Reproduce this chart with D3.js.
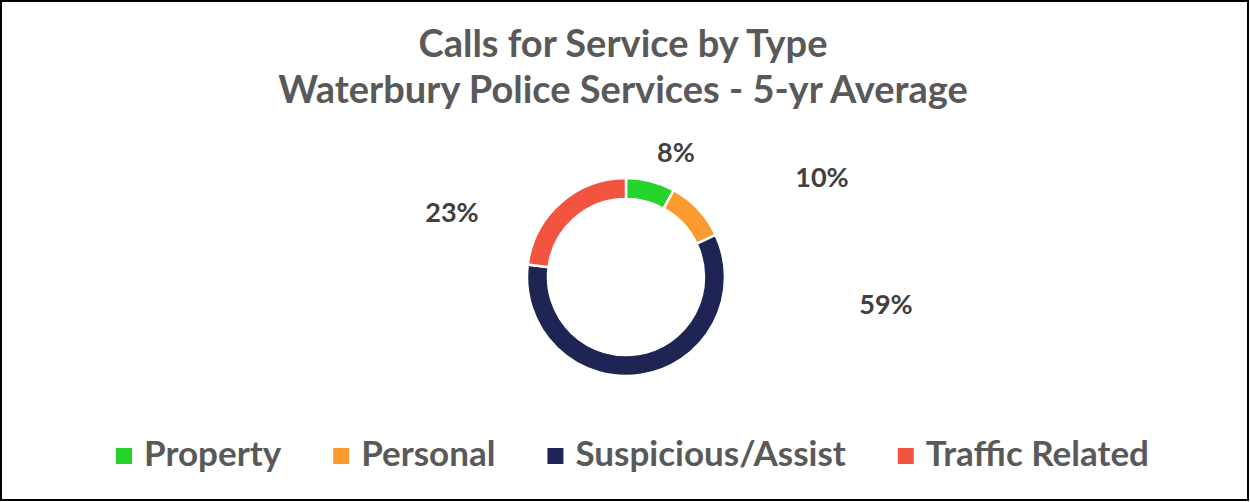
<!DOCTYPE html>
<html>
<head>
<meta charset="utf-8">
<script src="https://cdn.jsdelivr.net/npm/d3@7"></script>
<style>
  body { margin: 0; background: #fff; }
  text { font-family: Lato, "Open Sans", sans-serif; font-weight: bold; }
</style>
</head>
<body>
<svg id="drawing_region"></svg>
<script>
// data
const categories = ['Property', 'Personal', 'Suspicious/Assist', 'Traffic Related'];
const shares = [8, 10, 59, 23];
const colors = ['#25d32b', '#fb9a2e', '#1e2453', '#f2543f'];
const titleLines = ['Calls for Service by Type', 'Waterbury Police Services - 5-yr Average'];

// label anchors relative to donut centre (labels were dragged by hand in the original)
const labelOffsets = [[50, -115], [196, -90], [260, 37], [-174, -55]];

const config = {
    width: 1250,
    height: 502,
    cx: 626,
    cy: 277,
    outer: 99,
    inner: 78,
};

const svg = d3.select('#drawing_region')
    .attr('width', config.width)
    .attr('height', config.height);

svg.append('rect')
    .attr('x', 1).attr('y', 1)
    .attr('width', config.width - 3)
    .attr('height', config.height - 3)
    .attr('fill', 'white')
    .attr('stroke', 'black')
    .attr('stroke-width', 2);

// title
svg.selectAll('.title')
    .data(titleLines)
    .join('text')
    .attr('class', 'title')
    .attr('x', 623)
    .attr('y', (d, i) => 57 + i * 46)
    .attr('text-anchor', 'middle')
    .attr('font-size', 38)
    .attr('fill', '#595959')
    .text(d => d);

// donut
const data = categories.map((c, i) => ({ name: c, value: shares[i], color: colors[i] }));
const pie = d3.pie().value(d => d.value).sort(null);
const arc = d3.arc().innerRadius(config.inner).outerRadius(config.outer);

const chart = svg.append('g')
    .attr('transform', `translate(${config.cx}, ${config.cy})`);

chart.selectAll('path')
    .data(pie(data))
    .join('path')
    .attr('d', arc)
    .attr('fill', d => d.data.color)
    .attr('stroke', 'white')
    .attr('stroke-width', 2.5);

chart.selectAll('.label')
    .data(pie(data))
    .join('text')
    .attr('class', 'label')
    .attr('x', (d, i) => labelOffsets[i][0])
    .attr('y', (d, i) => labelOffsets[i][1])
    .attr('text-anchor', 'middle')
    .attr('font-size', 27)
    .attr('fill', '#404040')
    .text(d => d.data.value + '%');

// legend
const legend = svg.append('g');
const items = legend.selectAll('g')
    .data(data)
    .join('g');

items.append('rect')
    .attr('y', 448)
    .attr('width', 16)
    .attr('height', 16)
    .attr('fill', d => d.color);

items.append('text')
    .attr('x', 28)
    .attr('y', 466)
    .attr('font-size', 35)
    .attr('fill', '#595959')
    .text(d => d.name);

let xpos = 0;
items.each(function () {
    const w = d3.select(this).select('text').node().getComputedTextLength();
    d3.select(this).attr('transform', `translate(${xpos}, 0)`);
    xpos += 28 + w + 52;
});
const total = xpos - 52;
legend.attr('transform', `translate(${632.5 - total / 2}, 0)`);
</script>
</body>
</html>
